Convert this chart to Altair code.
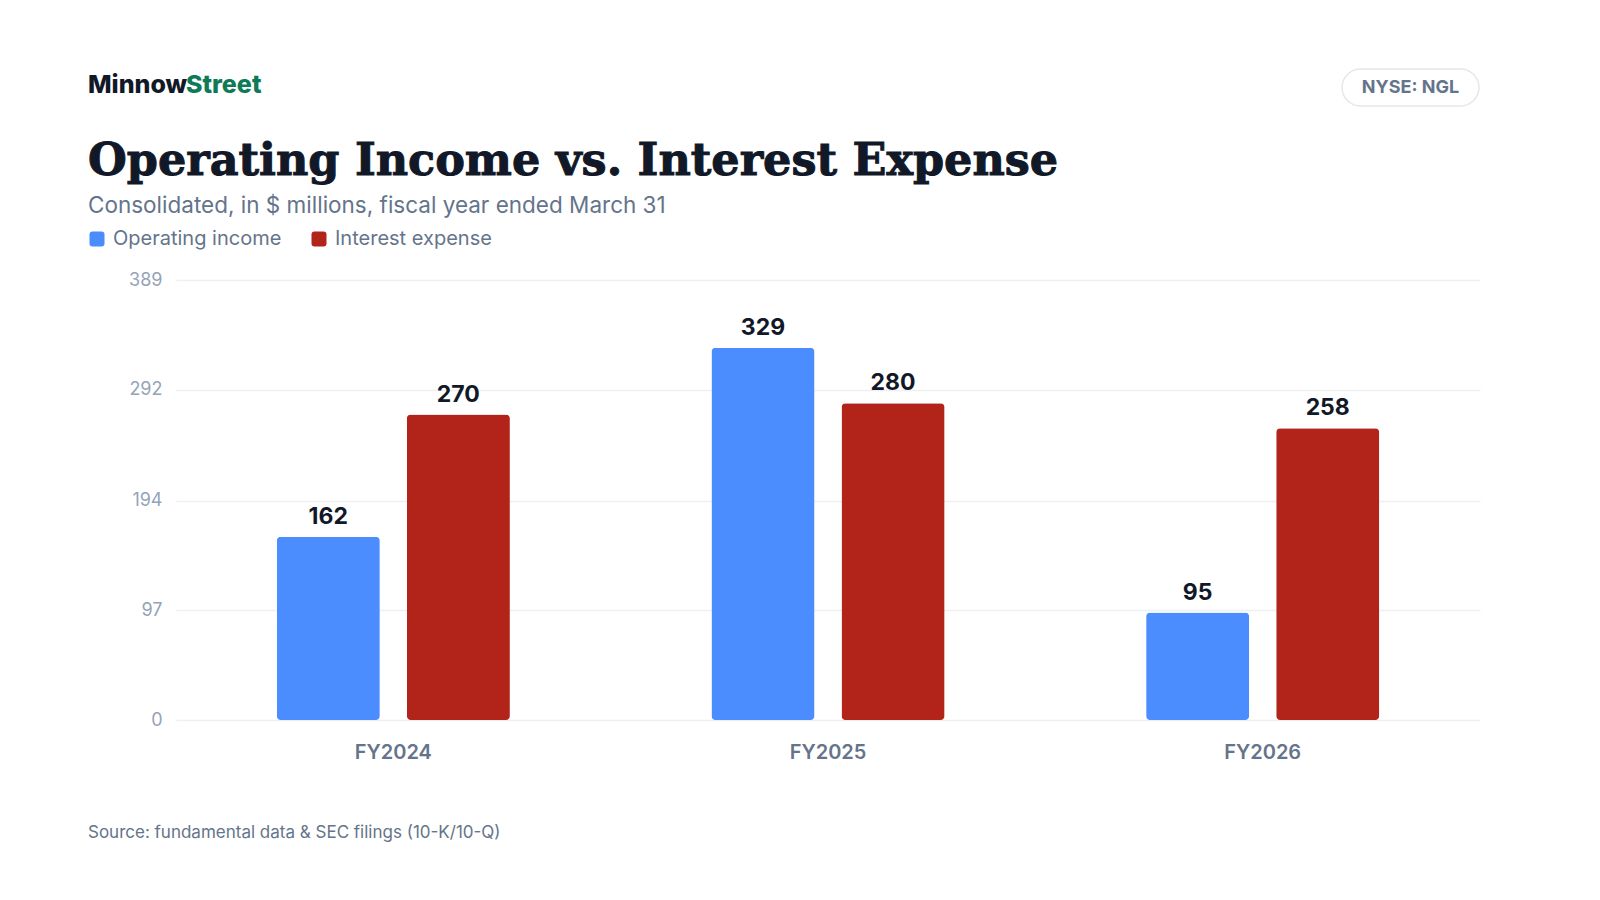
import altair as alt
import pandas as pd

# ---- data ----
years = ["FY2024", "FY2025", "FY2026"]
series = ["Operating income", "Interest expense"]
operating_income = [162, 329, 95]
interest_expense = [270, 280, 258]
y_ticks = [0, 97, 194, 292, 389]
y_max = 389

colors = ["#4b8dff", "#b22319"]

rows = []
for i, yr in enumerate(years):
    rows.append({"year": yr, "series": series[0], "value": operating_income[i]})
    rows.append({"year": yr, "series": series[1], "value": interest_expense[i]})
df = pd.DataFrame(rows)

W, H = 1304, 440
INK = "#111827"
MUTED = "#64748b"

x_enc = alt.X("year:N", sort=years,
              scale=alt.Scale(paddingInner=0.4637, paddingOuter=0.2318),
              axis=alt.Axis(title=None, labelAngle=0, labelFontSize=20, labelFontWeight=600,
                            labelColor=MUTED, labelPadding=22, ticks=False, domain=False, grid=False))
xo_enc = alt.XOffset("series:N", sort=series,
                     scale=alt.Scale(paddingInner=0.2077, paddingOuter=0))
y_enc = alt.Y("value:Q", scale=alt.Scale(domain=[0, y_max], nice=False),
              axis=alt.Axis(title=None, values=y_ticks, labelFontSize=18, labelColor="#94a3b8",
                            labelPadding=14, ticks=False, domain=False, grid=True,
                            gridColor="#eef0f3", gridWidth=1.5, format="d"))

sym = "M -0.6 -1 H 0.6 Q 1 -1 1 -0.6 V 0.6 Q 1 1 0.6 1 H -0.6 Q -1 1 -1 0.6 V -0.6 Q -1 -1 -0.6 -1 Z"

bars = alt.Chart(df).mark_bar(cornerRadius=4).encode(
    x=x_enc, xOffset=xo_enc, y=y_enc,
    color=alt.Color("series:N", sort=series,
                    scale=alt.Scale(domain=series, range=colors),
                    legend=alt.Legend(title=None, orient="none", direction="horizontal",
                                      legendX=-89, legendY=-51, symbolType=sym, symbolSize=225,
                                      symbolStrokeWidth=0, labelFontSize=20, labelColor=MUTED,
                                      labelOffset=6, columnPadding=27, padding=0, labelLimit=0,
                                      labelFont="Inter")),
)

labels = alt.Chart(df).mark_text(baseline="alphabetic", dy=-13, fontSize=23,
                                 fontWeight="bold", color=INK, font="Inter").encode(
    x=x_enc, xOffset=xo_enc, y=y_enc, text=alt.Text("value:Q", format="d"),
)

one = pd.DataFrame({"k": [0]})

def txt(s, x, y, **kw):
    return alt.Chart(one).mark_text(align=kw.pop("align", "left"), baseline=kw.pop("baseline", "alphabetic"), **kw).encode(
        x=alt.value(x), y=alt.value(y), text=alt.value(s))

logo1 = txt("Minnow", -88, -187, font="Inter", fontSize=25, fontWeight=800, color=INK)
logo2 = txt("Street", 10, -187, font="Inter", fontSize=25, fontWeight=800, color="#0f7a58")
title = txt("Operating Income vs. Interest Expense", -88, -105, font="DejaVu Serif",
            fontSize=44.5, fontWeight="bold", color=INK, stroke=INK, strokeWidth=1)
subtitle = txt("Consolidated, in $ millions, fiscal year ended March 31", -88, -67,
               font="Inter", fontSize=22.5, color=MUTED)
source = txt("Source: fundamental data & SEC filings (10-K/10-Q)", -88, 558,
             font="Inter", fontSize=17, color=MUTED)
badge_box = alt.Chart(one).mark_rect(cornerRadius=19, fill="white", stroke="#e5e7eb",
                                     strokeWidth=1.5).encode(
    x=alt.value(1166), x2=alt.value(1303), y=alt.value(-211), y2=alt.value(-174))
badge_txt = txt("NYSE: NGL", 1234.5, -192, align="center", baseline="middle",
                font="Inter", fontSize=18, fontWeight=700, color=MUTED)

chart = alt.layer(bars, labels, logo1, logo2, title, subtitle, source, badge_box, badge_txt).properties(
    width=W, height=H,
    autosize=alt.AutoSizeParams(type="none"),
    padding={"left": 168, "top": 272, "right": 60, "bottom": 140},
).configure(font="Inter", background="white").configure_view(stroke=None)

chart.save("out.html", embed_options={"renderer": "svg", "actions": False})
